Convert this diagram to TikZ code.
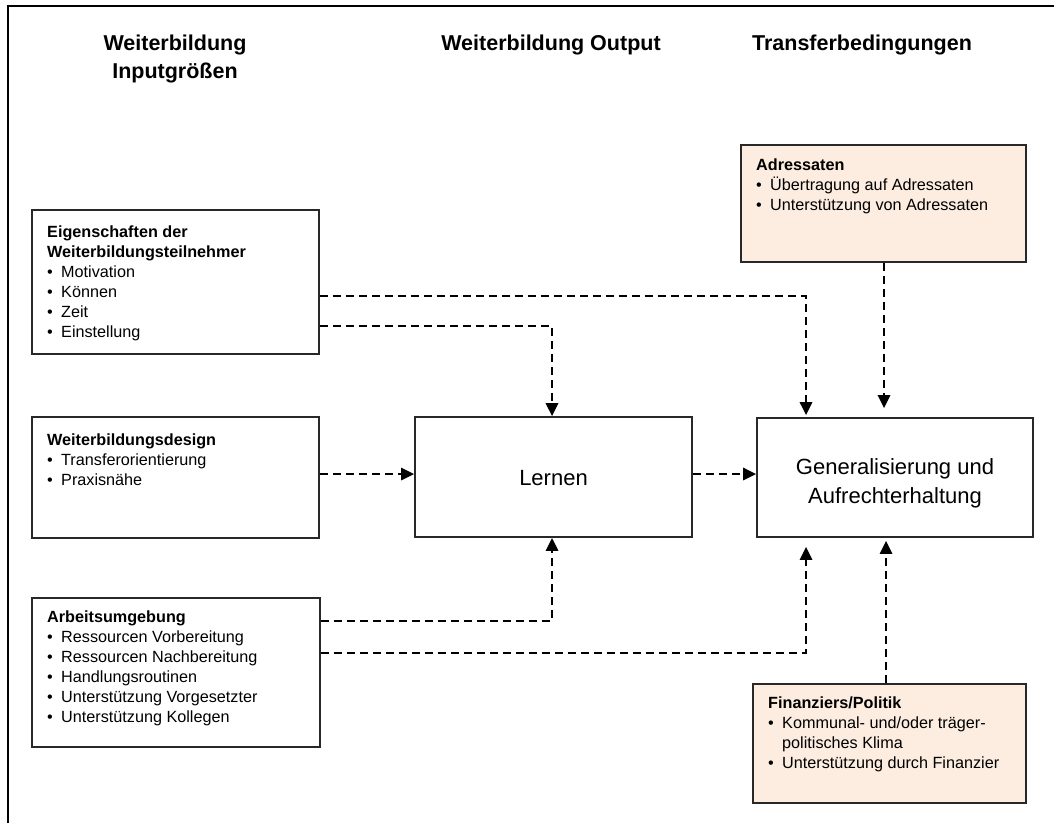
\documentclass[tikz,border=0pt]{standalone}
\usepackage{fontspec}
\setmainfont{Liberation Sans}
\usetikzlibrary{arrows.meta}
\definecolor{peach}{RGB}{252,237,224}
\definecolor{boxline}{RGB}{40,40,40}

% bullet entry with a fixed indent
\newcommand\bitem[1]{\makebox[14pt][l]{•}#1}

\begin{document}
\begin{tikzpicture}[x=1pt,y=-1pt,
  box/.style={draw=boxline, line width=1.6pt, inner sep=0pt},
  listtext/.style={anchor=base west, inner sep=0pt,
    font=\fontsize{16.2}{20}\selectfont},
  head/.style={anchor=base, inner sep=0pt,
    font=\fontsize{21.5}{28}\selectfont\bfseries},
  bigtext/.style={anchor=base, inner sep=0pt,
    font=\fontsize{22}{29}\selectfont},
  flow/.style={line width=2.7pt, dash pattern=on 8pt off 5pt,
    -{Triangle[length=13pt,width=12pt]}}]

\useasboundingbox (0,0) rectangle (1054,823);

% frame
\draw[line width=2pt] (8,823) -- (8,6) -- (1054,6);

% column headings
\node[head] (h1) at (175,50) {\parbox[t]{220pt}{\centering Weiterbildung\\Inputgrößen}};
\node[head] (h2) at (551,50) {Weiterbildung Output};
\node[head] (h3) at (862,50) {Transferbedingungen};

% input boxes
\node[box, minimum width=287pt, minimum height=144pt] (b1) at (175.5,282) {};
\node[listtext] (b1t) at (47,237) {\parbox[t]{265pt}{\raggedright
  \textbf{Eigenschaften der}\\
  \textbf{Weiterbildungsteilnehmer}\\
  \bitem{Motivation}\\
  \bitem{Können}\\
  \bitem{Zeit}\\
  \bitem{Einstellung}}};

\node[box, minimum width=287pt, minimum height=121pt] (b2) at (175.5,477.5) {};
\node[listtext] (b2t) at (47,445) {\parbox[t]{265pt}{\raggedright
  \textbf{Weiterbildungsdesign}\\
  \bitem{Transferorientierung}\\
  \bitem{Praxisnähe}}};

\node[box, minimum width=288pt, minimum height=149pt] (b3) at (176,672.5) {};
\node[listtext] (b3t) at (47,622) {\parbox[t]{265pt}{\raggedright
  \textbf{Arbeitsumgebung}\\
  \bitem{Ressourcen Vorbereitung}\\
  \bitem{Ressourcen Nachbereitung}\\
  \bitem{Handlungsroutinen}\\
  \bitem{Unterstützung Vorgesetzter}\\
  \bitem{Unterstützung Kollegen}}};

% output and transfer boxes
\node[box, minimum width=277pt, minimum height=120pt] (lern) at (553.5,477) {};
\node[bigtext] (lernt) at (553.5,485) {Lernen};

\node[box, minimum width=276pt, minimum height=119pt] (gen) at (895,477.5) {};
\node[bigtext] (gent) at (895,474) {\parbox[t]{270pt}{\centering Generalisierung und\\Aufrechterhaltung}};

\node[box, fill=peach, minimum width=285pt, minimum height=117pt] (adr) at (883.5,203.5) {};
\node[listtext] (adrt) at (756,170) {\parbox[t]{265pt}{\raggedright
  \textbf{Adressaten}\\
  \bitem{Übertragung auf Adressaten}\\
  \bitem{Unterstützung von Adressaten}}};

\node[box, fill=peach, minimum width=273pt, minimum height=119pt] (fin) at (889.5,743.5) {};
\node[listtext] (fint) at (768,708) {\parbox[t]{255pt}{\raggedright
  \textbf{Finanziers/Politik}\\
  \bitem{Kommunal- und/oder träger-}\\
  \hspace*{14pt}politisches Klima\\
  \bitem{Unterstützung durch Finanzier}}};

% routing points
\coordinate (r1) at (806,296);
\coordinate (r2) at (552,326);
\coordinate (mid) at (0,474);
\coordinate (r5) at (552,621);
\coordinate (r6) at (806,653);
\coordinate (r7) at (884,0);
\coordinate (r8) at (886,0);

% connectors
\draw[flow, shorten >=2pt] (b1.east |- r1) -- (r1) -- (r1 |- gen.north);
\draw[flow] (b1.east |- r2) -- (r2) -- (r2 |- lern.north);
\draw[flow] (b2.east |- mid) -- (lern.west |- mid);
\draw[flow] (lern.east |- mid) -- (gen.west |- mid);
\draw[flow] (b3.east |- r5) -- (r5) -- (r5 |- lern.south);
\draw[flow, shorten >=9pt] (b3.east |- r6) -- (r6) -- (r6 |- gen.south);
\draw[flow, shorten >=9pt] (r7 |- adr.south) -- (r7 |- gen.north);
\draw[flow, shorten >=3pt] (r8 |- fin.north) -- (r8 |- gen.south);

\end{tikzpicture}
\end{document}
